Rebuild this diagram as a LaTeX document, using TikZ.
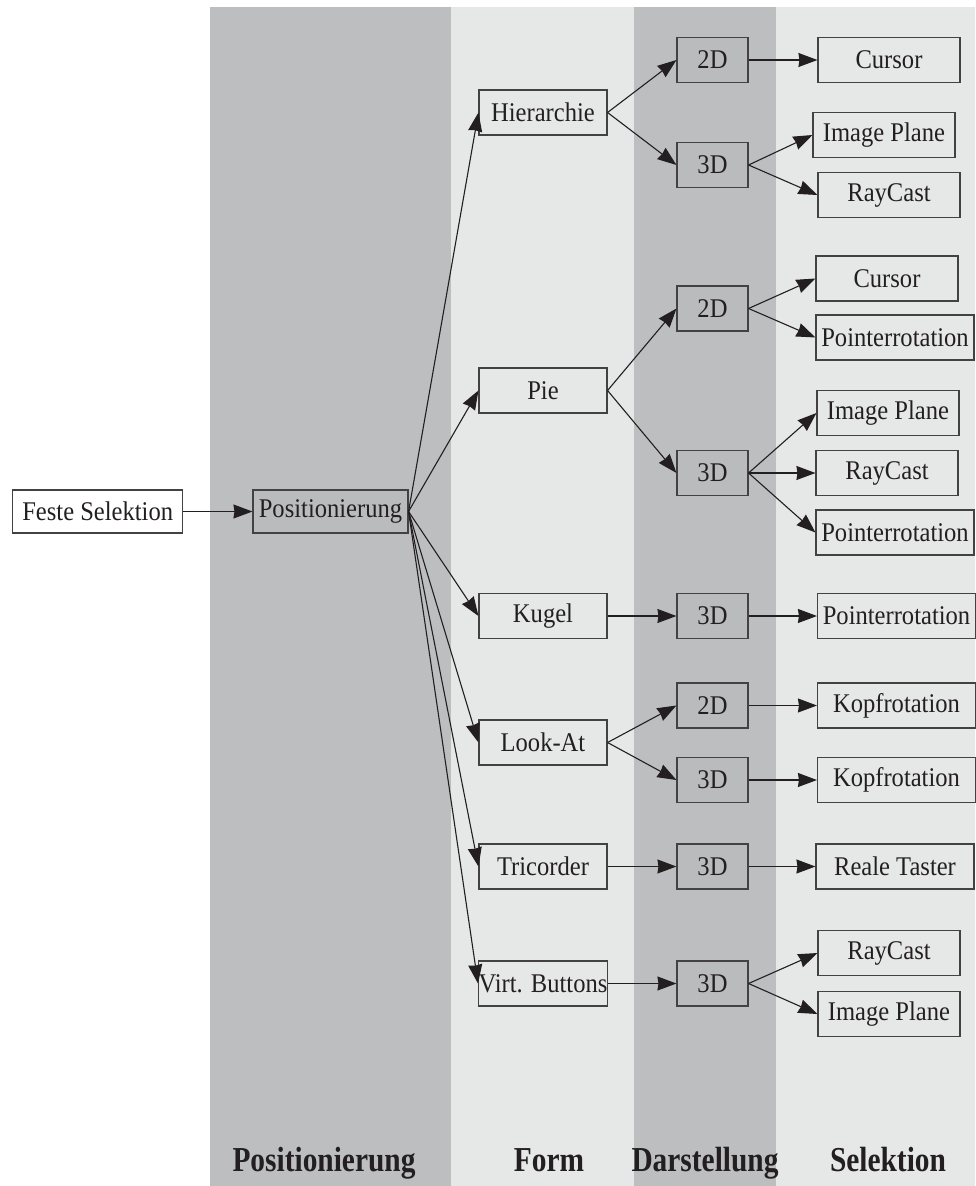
\documentclass[tikz,border=0pt]{standalone}
\usepackage{fontspec}
\setmainfont{Liberation Serif}
\newfontfamily\boxfont[FakeStretch=0.91]{Liberation Serif}
\newfontfamily\headfont[FakeStretch=0.84]{Liberation Serif}
\usetikzlibrary{arrows.meta}
\definecolor{banddark}{HTML}{BDBEC0}
\definecolor{bandlight}{HTML}{E6E7E7}
\definecolor{boxdark}{HTML}{BABBBD}
\definecolor{ink}{HTML}{231F20}

\begin{document}
\begin{tikzpicture}[x=1pt,y=-1pt,
  box/.style={draw=ink!85, line width=1.1pt, inner sep=0pt, text=ink,
    font=\boxfont\fontsize{27}{30}\selectfont, minimum height=45pt},
  formbox/.style={box, minimum width=128pt},
  viewbox/.style={box, fill=boxdark, minimum width=71pt},
  selbox/.style={box, minimum width=142pt},
  widebox/.style={box, minimum width=158pt},
  link/.style={draw=ink, line width=1.1pt, -{Stealth[length=19pt,width=14pt,inset=1pt]}},
  head/.style={font=\headfont\bfseries\fontsize{35}{37}\selectfont, text=ink, anchor=base}]

\useasboundingbox (0,0) rectangle (975,1186);

% column bands
\fill[banddark]  (210,7) rectangle (451,1186);
\fill[bandlight] (451,7) rectangle (634,1186);
\fill[banddark]  (634,7) rectangle (776,1186);
\fill[bandlight] (776,7) rectangle (975,1186);

% column headings
\node[head] (hpos)  at (324,1171) {Positionierung};
\node[head] (hform) at (549,1171) {Form};
\node[head] (hdar)  at (705,1171) {Darstellung};
\node[head] (hsel)  at (888,1171) {Selektion};

% start
\node[box, fill=white, minimum width=170pt, minimum height=43pt] (feste) at (97.7,511.5) {Feste Selektion};
\node[box, fill=boxdark, minimum width=155pt, minimum height=43pt] (pos) at (330.5,511.5) {Positionierung};

% form
\node[formbox] (hier)  at (543,112.5) {Hierarchie};
\node[formbox] (pie)   at (543,390.5) {Pie};
\node[formbox] (kugel) at (543,616)   {Kugel};
\node[formbox] (look)  at (543,742.5) {Look-At};
\node[formbox] (tri)   at (543,866.5) {Tricorder};
\node[formbox] (virt)  at (543,983.5) {Virt. Buttons};

% darstellung
\node[viewbox] (h2) at (712.5,60)    {2D};
\node[viewbox] (h3) at (712.5,165)   {3D};
\node[viewbox] (p2) at (712.5,308.5) {2D};
\node[viewbox] (p3) at (712.5,473)   {3D};
\node[viewbox] (k3) at (712.5,616)   {3D};
\node[viewbox] (l2) at (712.5,705.5) {2D};
\node[viewbox] (l3) at (712.5,780)   {3D};
\node[viewbox] (t3) at (712.5,866.5) {3D};
\node[viewbox] (v3) at (712.5,983.5) {3D};

% selektion
\node[selbox]  (hcur) at (889,60)    {Cursor};
\node[selbox]  (himg) at (884,135)   {Image Plane};
\node[selbox]  (hray) at (889,195)   {RayCast};
\node[selbox]  (pcur) at (887,278.5) {Cursor};
\node[widebox] (pptr) at (895,337.5) {Pointerrotation};
\node[selbox]  (pimg) at (888,413)   {Image Plane};
\node[selbox]  (pray) at (887,473)   {RayCast};
\node[widebox] (pptb) at (895,532.5) {Pointerrotation};
\node[widebox] (kptr) at (896.5,616) {Pointerrotation};
\node[widebox] (lkp2) at (896.5,705.5) {Kopfrotation};
\node[widebox] (lkp3) at (896.5,780) {Kopfrotation};
\node[widebox] (trea) at (895,866.5) {Reale Taster};
\node[selbox]  (vray) at (889,953)   {RayCast};
\node[selbox]  (vimg) at (889,1014)  {Image Plane};

% connectors
\draw[link] (feste.east) -- (pos.west);
\foreach \f in {hier,pie,kugel,look,tri,virt}
  \draw[link] (pos.east) -- (\f.west);

\draw[link] (hier.east) -- (h2.west);
\draw[link] (hier.east) -- (h3.west);
\draw[link] (pie.east) -- (p2.west);
\draw[link] (pie.east) -- (p3.west);
\draw[link] (kugel.east) -- (k3.west);
\draw[link] (look.east) -- (l2.west);
\draw[link] (look.east) -- (l3.west);
\draw[link] (tri.east) -- (t3.west);
\draw[link] (virt.east) -- (v3.west);

\draw[link] (h2.east) -- (hcur.west);
\draw[link] (h3.east) -- (himg.west);
\draw[link] (h3.east) -- (hray.west);
\draw[link] (p2.east) -- (pcur.west);
\draw[link] (p2.east) -- (pptr.west);
\draw[link] (p3.east) -- (pimg.west);
\draw[link] (p3.east) -- (pray.west);
\draw[link] (p3.east) -- (pptb.west);
\draw[link] (k3.east) -- (kptr.west);
\draw[link] (l2.east) -- (lkp2.west);
\draw[link] (l3.east) -- (lkp3.west);
\draw[link] (t3.east) -- (trea.west);
\draw[link] (v3.east) -- (vray.west);
\draw[link] (v3.east) -- (vimg.west);
\end{tikzpicture}
\end{document}
